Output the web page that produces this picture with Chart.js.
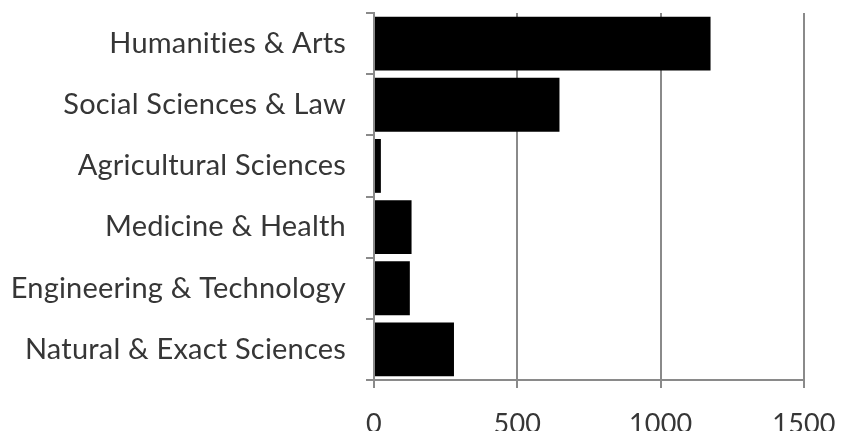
<!DOCTYPE html>
<html lang="en">
    <head>
        <meta charset="UTF-8">
        <title>Fields of science</title>
        <script src="https://cdn.jsdelivr.net/npm/chart.js"></script>
        <style>
            html, body {
                margin: 0;
                padding: 0;
                background: #fff;
                overflow: hidden;
            }
            #box {
                width: 842px;
                height: 450px;
            }
        </style>
    </head>
    <body>
        <div id="box"><canvas id="fieldsChart" width="842" height="450"></canvas></div>
        <script>
            // categories, top to bottom
            const fields = [
                'Humanities & Arts',
                'Social Sciences & Law',
                'Agricultural Sciences',
                'Medicine & Health',
                'Engineering & Technology',
                'Natural & Exact Sciences'
            ];
            const counts = [1174, 647, 24, 131, 125, 279];
            const xTicks = [0, 500, 1000, 1500];

            const gridGray = '#8a8a8a';
            const textColor = '#363636';

            // a tiny letter spacing stops Lato from joining "ti" into a ligature
            const noLigatures = {
                id: 'noLigatures',
                beforeDraw: chart => { chart.ctx.letterSpacing = '0.2px'; }
            };

            new Chart(document.getElementById('fieldsChart'), {
                type: 'bar',
                data: {
                    labels: fields,
                    datasets: [{
                        data: counts,
                        backgroundColor: '#000',
                        borderWidth: 0,
                        categoryPercentage: 1,
                        barPercentage: 0.88
                    }]
                },
                plugins: [noLigatures],
                options: {
                    indexAxis: 'y',
                    responsive: false,
                    animation: false,
                    layout: {
                        padding: { top: 13, right: 38, left: 0, bottom: 0 }
                    },
                    plugins: {
                        legend: { display: false },
                        tooltip: { enabled: false }
                    },
                    scales: {
                        x: {
                            min: xTicks[0],
                            max: xTicks[xTicks.length - 1],
                            afterBuildTicks: axis => {
                                axis.ticks = xTicks.map(v => ({ value: v }));
                            },
                            afterFit: axis => {
                                axis.height = 70;
                                axis.paddingLeft = 0;
                                axis.paddingRight = 0;
                            },
                            grid: {
                                color: gridGray,
                                lineWidth: 2,
                                tickLength: 8
                            },
                            border: { color: gridGray, width: 2 },
                            ticks: {
                                color: textColor,
                                font: { family: 'Lato', size: 27 },
                                padding: 20,
                                maxRotation: 0,
                                callback: v => String(v)
                            }
                        },
                        y: {
                            afterFit: axis => {
                                axis.width = 374;
                                axis.paddingTop = 0;
                                axis.paddingBottom = 0;
                            },
                            grid: {
                                offset: true,
                                drawOnChartArea: false,
                                color: gridGray,
                                lineWidth: 2,
                                tickLength: 8
                            },
                            border: { color: gridGray, width: 2 },
                            ticks: {
                                color: textColor,
                                font: { family: 'Lato', size: 29 },
                                padding: 20
                            }
                        }
                    }
                }
            });
        </script>
    </body>
</html>
